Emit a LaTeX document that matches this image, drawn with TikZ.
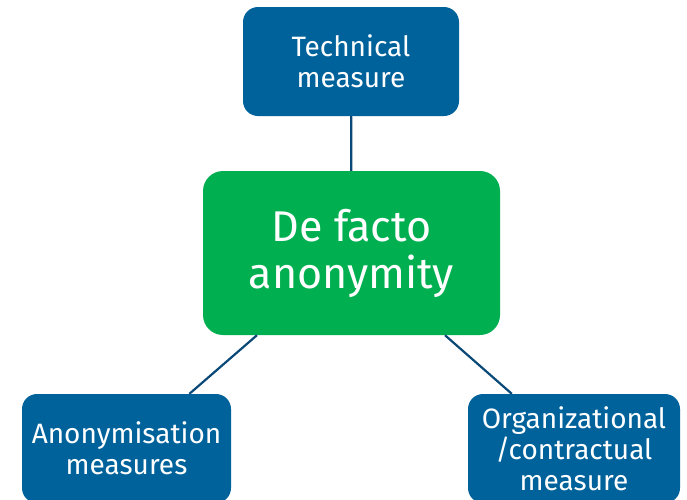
\documentclass[tikz,border=0pt]{standalone}
\usepackage{fontspec}
\setmainfont{Fira Sans}
\definecolor{measureblue}{RGB}{0,98,155}
\definecolor{facto}{RGB}{0,176,80}
\definecolor{linkblue}{RGB}{10,72,120}
\begin{document}
\begin{tikzpicture}[x=1pt,y=-1pt,
	measure/.style={fill=measureblue,text=white,rounded corners=15pt,align=center,minimum width=212pt,minimum height=109pt,inner sep=0pt,font=\fontsize{28}{31}\selectfont},
	link/.style={draw=linkblue,line width=2.2pt}]
	\useasboundingbox (0,0) rectangle (687,499);
	\clip (0,0) rectangle (687,499);
	
	%BOXES
	\node[fill=facto,text=white,rounded corners=20pt,align=center,minimum width=297pt,minimum height=164pt,inner sep=0pt,font=\fontsize{43}{47}\selectfont] (facto) at (351.5,253) {De facto\\anonymity};
	\node[measure,minimum width=216pt] (tech) at (351,61.5) {Technical\\measure};
	\node[measure,minimum width=209pt] (anon) at (126.5,448.5) {Anonymisation\\measures};
	\node[measure] (org) at (574,448.5) {Organizational\\/contractual\\measure};
	
	%LINKS
	\draw[link] (tech) -- (facto);
	\draw[link] (facto) -- (anon);
	\draw[link] (facto) -- (org);
\end{tikzpicture}
\end{document}
